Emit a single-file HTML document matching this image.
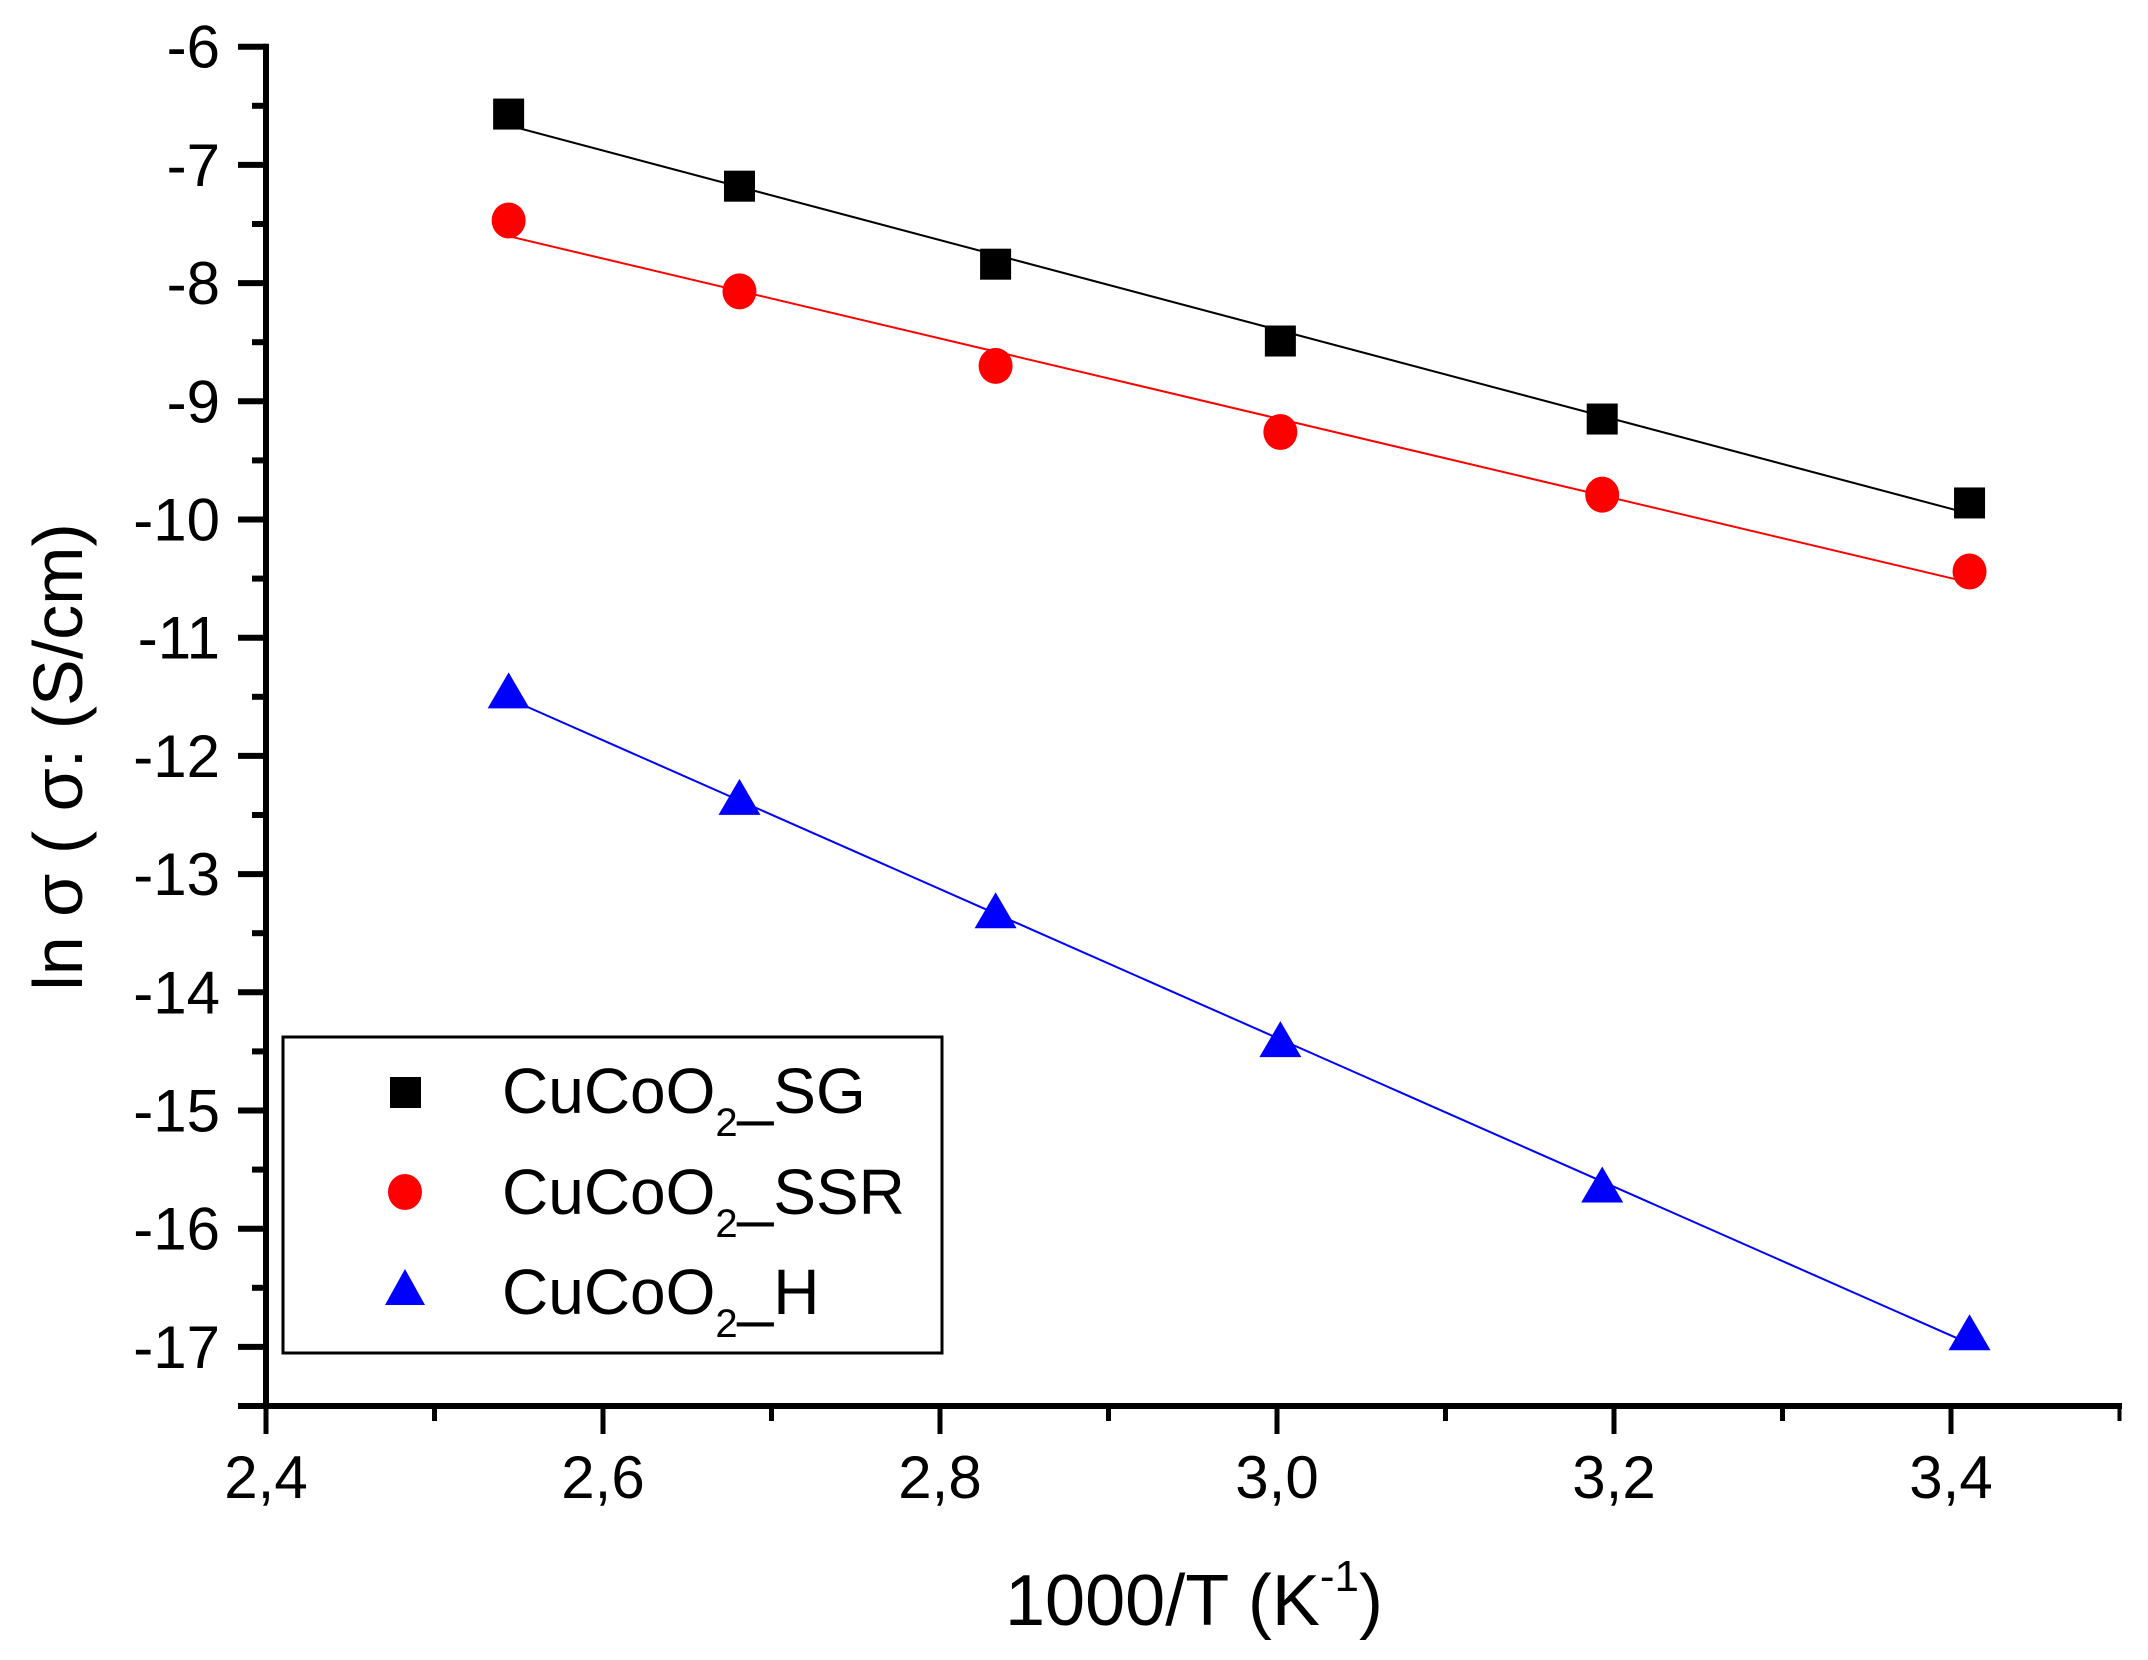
<!DOCTYPE html>
<html><head><meta charset="utf-8"><style>
html,body{margin:0;padding:0;background:#fff}
svg{display:block;font-family:"Liberation Sans",sans-serif}
</style></head><body>
<svg id="chart" width="2148" height="1660" viewBox="0 0 2148 1660">
<g id="axes"></g><g id="series"></g>
<g id="legend">
<rect x="283" y="1037" width="659" height="316" fill="#fff" stroke="#000" stroke-width="3"/>
<rect x="390" y="1077" width="31" height="31" fill="#000"/>
<text x="502" y="1113" font-size="64">CuCoO<tspan font-size="40" dy="23">2</tspan><tspan dy="-23">_SG</tspan></text>
<ellipse cx="405" cy="1192" rx="17" ry="18" fill="#f00"/>
<text x="502" y="1214" font-size="64">CuCoO<tspan font-size="40" dy="23">2</tspan><tspan dy="-23">_SSR</tspan></text>
<polygon points="405,1269 425,1305 385,1305" fill="#00f"/>
<text x="502" y="1314" font-size="64">CuCoO<tspan font-size="40" dy="23">2</tspan><tspan dy="-23">_H</tspan></text>
</g>
<text x="1194" y="1625" font-size="72" text-anchor="middle">1000/T (K<tspan font-size="44" dy="-34">-1</tspan><tspan dy="34">)</tspan></text>
<text transform="translate(82,757) rotate(-90)" font-size="70" text-anchor="middle">ln σ ( σ: (S/cm)</text>
</svg>
<script>
const xs = [2.544, 2.681, 2.833, 3.002, 3.193, 3.411];
const sg = [-6.57, -7.18, -7.84, -8.49, -9.15, -9.86];
const ssr = [-7.47, -8.07, -8.70, -9.26, -9.79, -10.44];
const hh = [-11.48, -12.38, -13.34, -14.43, -15.66, -16.91];
const xTicks = [2.4, 2.6, 2.8, 3.0, 3.2, 3.4];
const xTickLabels = ["2,4", "2,6", "2,8", "3,0", "3,2", "3,4"];
const yTicks = [-6, -7, -8, -9, -10, -11, -12, -13, -14, -15, -16, -17];

const NS = "http://www.w3.org/2000/svg";
const X = v => 266 + (v - 2.4) * 1685;
const Y = v => 46.7 + (-6 - v) * 118.2;
function mk(tag, attrs, parent) {
  const e = document.createElementNS(NS, tag);
  for (const k in attrs) e.setAttribute(k, attrs[k]);
  parent.appendChild(e);
  return e;
}
const axes = document.getElementById("axes");
const ser = document.getElementById("series");
let e;
e = mk("line", {x1: 266, y1: Y(-6) - 3, x2: 266, y2: 1406, stroke: "#000", "stroke-width": 6}, axes);


e = mk("line", {x1: 238, y1: 1406, x2: 2122, y2: 1406, stroke: "#000", "stroke-width": 6}, axes);


for (let v = -6; v >= -17.5; v -= 0.5) {
  const major = Math.abs(v - Math.round(v)) < 1e-6;
  e = mk("line", {x1: major ? 238 : 252, y1: Y(v), x2: 266, y2: Y(v), stroke: "#000", "stroke-width": 6}, axes);
  
  
}
yTicks.forEach(v => {
  e = mk("text", {x: 220, y: Y(v) + 21, "font-size": 60, "text-anchor": "end"}, axes);
  e.textContent = String(v);
  
  
});
for (let i = 0; i <= 11; i++) {
  const v = 2.4 + i * 0.1;
  const major = i % 2 === 0;
  e = mk("line", {x1: X(v), y1: 1406, x2: X(v), y2: major ? 1434 : 1421, stroke: "#000", "stroke-width": i === 11 ? 4 : 5}, axes);
  
  
}
xTicks.forEach((v, i) => {
  e = mk("text", {x: X(v), y: 1498, "font-size": 60, "text-anchor": "middle"}, axes);
  e.textContent = xTickLabels[i];
  
  
});
function fit(ys) {
  const n = xs.length;
  const mx = xs.reduce((a, b) => a + b) / n, my = ys.reduce((a, b) => a + b) / n;
  let sxy = 0, sxx = 0;
  for (let i = 0; i < n; i++) { sxy += (xs[i] - mx) * (ys[i] - my); sxx += (xs[i] - mx) ** 2; }
  const b = sxy / sxx;
  return x => my + b * (x - mx);
}
function drawSeries(ys, color, shape, name) {
  const f = fit(ys);
  const x0 = xs[0], x1 = xs[xs.length - 1];
  e = mk("line", {x1: X(x0), y1: Y(f(x0)), x2: X(x1), y2: Y(f(x1)), stroke: color, "stroke-width": 2}, ser);
  
  
  ys.forEach((v, i) => {
    const cx = X(xs[i]), cy = Y(v);
    if (shape === "square") e = mk("rect", {x: cx - 15.5, y: cy - 15.5, width: 31, height: 31, fill: color}, ser);
    else if (shape === "circle") e = mk("ellipse", {cx: cx, cy: cy, rx: 17, ry: 18, fill: color}, ser);
    else e = mk("polygon", {points: `${cx},${cy - 22} ${cx + 21},${cy + 14} ${cx - 21},${cy + 14}`, fill: color}, ser);
    
    
  });
}
drawSeries(sg, "#000", "square", "sg");
drawSeries(ssr, "#f00", "circle", "ssr");
drawSeries(hh, "#00f", "triangle", "h");
</script>
</body></html>
